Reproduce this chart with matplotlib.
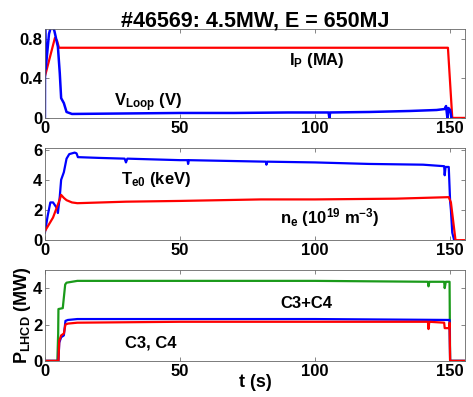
import numpy as np
import matplotlib
matplotlib.use("Agg")
import matplotlib.pyplot as plt

plt.rcParams['font.family'] = ['Liberation Sans', 'DejaVu Sans']
plt.rcParams['font.weight'] = 'bold'
plt.rcParams['axes.labelweight'] = 'bold'
plt.rcParams['mathtext.fontset'] = 'custom'
plt.rcParams['mathtext.bf'] = 'Liberation Sans:bold'
plt.rcParams['mathtext.rm'] = 'Liberation Sans:bold'
plt.rcParams['mathtext.default'] = 'bf'

# panel 1: plasma current and loop voltage
t_ip = [0, 3.7, 4.5, 5.2, 149.2, 150.8, 156]
ip = [0.42, 0.81, 0.78, 0.71, 0.71, 0.0, 0.0]
t_vl = [0, 0.05, 0.3, 1.5, 2.5, 3.5, 4.8, 5.5, 6.0, 7.0, 8.0, 10, 30, 50, 70, 90, 105, 105.3, 105.6,
        120, 135, 140, 145, 148, 148.5, 149, 149.4, 150, 150.5]
vl = [0.0, 0.92, 0.5, 0.85, 0.95, 0.88, 0.72, 0.45, 0.2, 0.15, 0.06, 0.04, 0.045, 0.05, 0.05, 0.055, 0.055, 0.0, 0.055,
      0.06, 0.07, 0.075, 0.08, 0.09, 0.12, 0.0, 0.1, 0.08, 0.0]

# panel 2: central electron temperature and density
t_te = [0, 1, 2, 3, 4.5, 4.8, 5.5, 6, 7, 8, 9, 11, 11.7, 12.2, 20, 29.5, 30, 30.5, 50, 52.8, 53, 53.3,
        81.8, 82, 82.3, 100, 120, 140, 147.8, 148, 148.3, 149.5, 150, 150.3, 150.8, 151.5]
te = [0.5, 1.6, 2.5, 2.5, 2.1, 1.8, 2.9, 4.0, 4.5, 5.4, 5.7, 5.8, 5.75, 5.5, 5.45, 5.4, 5.15, 5.4, 5.3, 5.3, 5.05, 5.3,
      5.2, 5.0, 5.2, 5.15, 5.05, 5.0, 4.9, 4.3, 4.85, 4.85, 2.6, 2.0, 0.5, 0.0]
t_ne = [0, 1, 3, 5.5, 6.0, 7, 8, 10, 12, 30, 50, 80, 100, 130, 149.5, 150.3, 152, 156]
ne = [0.6, 0.9, 1.5, 2.7, 3.0, 2.8, 2.65, 2.5, 2.45, 2.55, 2.6, 2.7, 2.7, 2.75, 2.85, 2.5, 0.0, 0.0]

# panel 3: LHCD power
t_tot = [0, 4.6, 4.9, 5.0, 6.6, 7.5, 8, 10, 12, 50, 100, 141.8, 142, 142.3, 147.8, 148, 148.4, 149.8, 150.0, 156]
p_tot = [0, 0, 1.5, 2.85, 2.9, 4.2, 4.3, 4.35, 4.4, 4.4, 4.4, 4.35, 4.1, 4.35, 4.35, 4.0, 4.35, 4.35, 0.0, 0.0]
t_c3 = [0, 5.0, 5.3, 6.0, 7.0, 7.6, 8.5, 12, 50, 100, 149.8, 150.0, 156]
p_c3 = [0, 0, 1.0, 1.3, 1.4, 2.2, 2.25, 2.3, 2.3, 2.3, 2.25, 0.0, 0.0]
t_c4 = [0, 5.0, 5.3, 6.0, 7.0, 7.6, 8.5, 12, 50, 100, 141.8, 142, 142.3, 147.8, 148, 149.6, 149.8, 150.0, 156]
p_c4 = [0, 0, 1.1, 1.4, 1.5, 2.0, 2.05, 2.1, 2.15, 2.15, 2.15, 1.75, 2.15, 2.1, 1.8, 1.8, 2.1, 0.0, 0.0]

fig = plt.figure(figsize=(4.73, 3.97), dpi=100)
L, W = 0.095, 0.888
ax1 = fig.add_axes([L, 0.703, W, 0.224])
ax2 = fig.add_axes([L, 0.395, W, 0.232])
ax3 = fig.add_axes([L, 0.091, W, 0.229])

ax1.plot(t_ip, ip, color='red', lw=1.6)
ax1.plot(t_vl, vl, color='blue', lw=1.8)
ax1.set_ylim(0, 0.9)
ax1.set_yticks([0, 0.4, 0.8])
ax1.set_yticklabels(['0', '0.4', '0.8'])
ax1.text(0.58, 0.6, 'I$_P$ (MA)', transform=ax1.transAxes, fontsize=12, ha='left')
ax1.text(0.165, 0.13, 'V$_{Loop}$ (V)', transform=ax1.transAxes, fontsize=12, ha='left')
ax1.set_title('#46569: 4.5MW, E = 650MJ', fontsize=15.5, fontweight='bold', pad=2)

ax2.plot(t_te, te, color='blue', lw=1.6)
ax2.plot(t_ne, ne, color='red', lw=1.6)
ax2.set_ylim(0, 6.1)
ax2.set_yticks([0, 2, 4, 6])
ax2.text(0.18, 0.61, 'T$_{e0}$ (keV)', transform=ax2.transAxes, fontsize=12)
ax2.text(0.56, 0.18, 'n$_e$ (10$^{19}$ m$^{-3}$)', transform=ax2.transAxes, fontsize=12)

ax3.plot(t_tot, p_tot, color='#1a9a1a', lw=1.6)
ax3.plot(t_c3, p_c3, color='blue', lw=1.6)
ax3.plot(t_c4, p_c4, color='red', lw=1.6)
ax3.set_ylim(0, 5)
ax3.set_yticks([0, 2, 4])
ax3.text(0.56, 0.58, 'C3+C4', transform=ax3.transAxes, fontsize=12)
ax3.text(0.19, 0.15, 'C3, C4', transform=ax3.transAxes, fontsize=12)
ax3.set_ylabel('P$_{LHCD}$ (MW)', fontsize=13, labelpad=0)
ax3.set_xlabel('t (s)', fontsize=13, labelpad=-3)

for ax in (ax1, ax2, ax3):
    ax.set_xlim(0, 155.5)
    ax.set_xticks([0, 50, 100, 150])
    ax.tick_params(direction='in', top=True, right=True, length=3, width=0.5,
                   labelsize=12, pad=2, color='#555555')
    for s in ax.spines.values():
        s.set_linewidth(0.6)
        s.set_color('#666666')

plt.savefig("out.png", dpi=100)
plt.close()
